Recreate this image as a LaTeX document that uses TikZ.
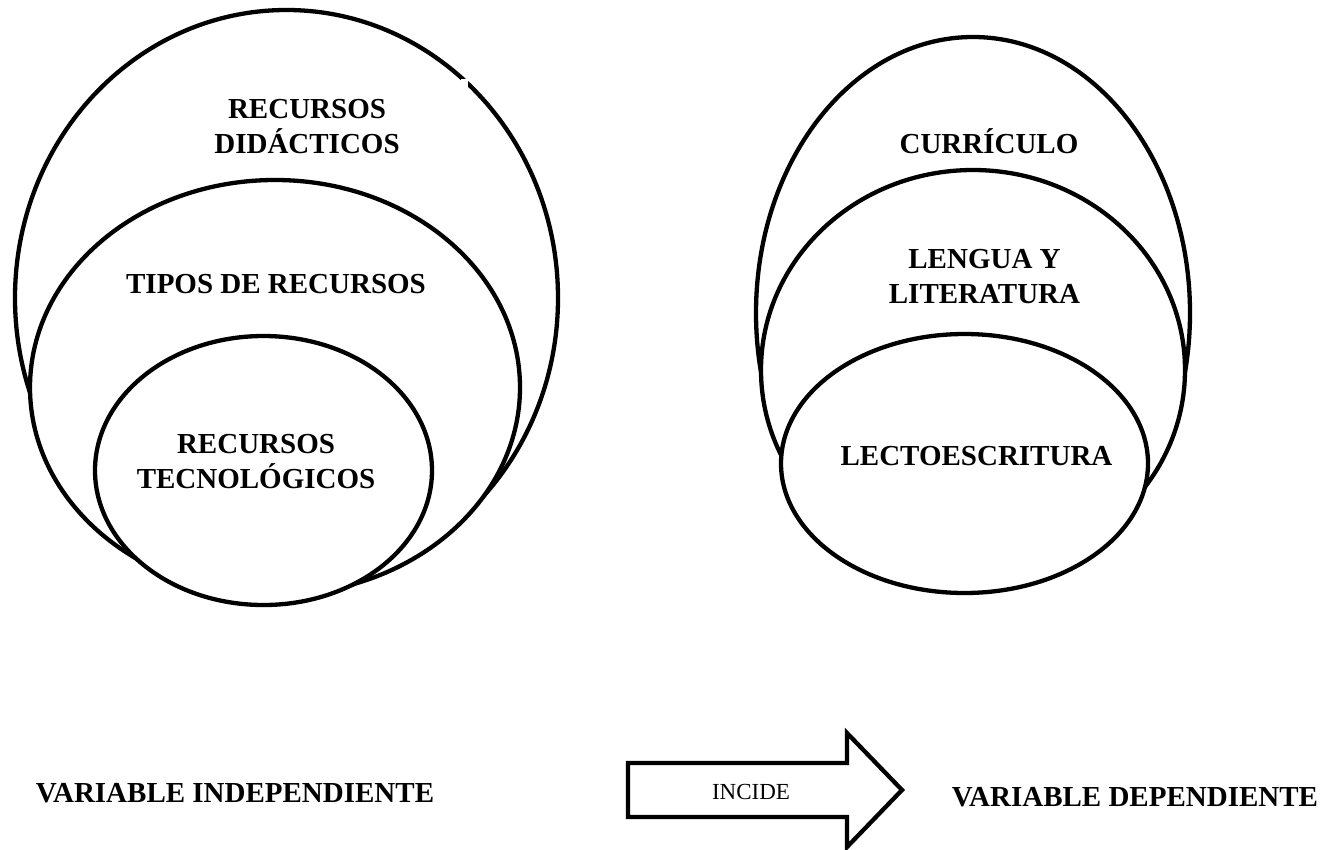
\documentclass[tikz,border=0pt]{standalone}
\usepackage{fontspec}
\setmainfont{Liberation Serif}
\usetikzlibrary{shapes.geometric}
\begin{document}
\begin{tikzpicture}[x=1pt,y=-1pt,
  ring/.style={draw=black, fill=white, line width=4.3pt, ellipse, inner sep=0pt},
  lbl/.style={font=\fontsize{29}{35}\selectfont\bfseries, align=center, inner sep=0pt},
  small/.style={font=\fontsize{23}{26}\selectfont, inner sep=0pt}]
\useasboundingbox (0,0) rectangle (1328,849);
% left group
\node[ring, minimum width=543pt, minimum height=576pt] (rd) at (286.5,298) {};
\node[ring, minimum width=490pt, minimum height=415pt] (tr) at (275,387.5) {};
\node[ring, minimum width=337pt, minimum height=269pt] (rt) at (263.5,470.5) {};
\fill[white] (461,79) rectangle (468,90);
\node[lbl] (trd) at (307,126.5) {RECURSOS\\DIDÁCTICOS};
\node[lbl] (ttr) at (276,284) {TIPOS DE RECURSOS};
\node[lbl] (trt) at (256,462) {RECURSOS\\TECNOLÓGICOS};
% right group
\node[ring, minimum width=434pt, minimum height=552pt] (cu) at (973,313) {};
\node[ring, minimum width=424pt, minimum height=400pt] (ll) at (973,370) {};
\node[ring, minimum width=367pt, minimum height=259pt] (le) at (964.5,463.5) {};
\node[lbl] (tcu) at (989,141) {CURRÍCULO};
\node[lbl] (tll) at (984.5,276.5) {LENGUA Y\\LITERATURA};
\node[lbl] (tle) at (976.5,456) {LECTOESCRITURA};
% bottom
\node[lbl] (vi) at (235,793) {VARIABLE INDEPENDIENTE};
\node[lbl] (vd) at (1135,797) {VARIABLE DEPENDIENTE};
\draw[line width=4.3pt, line join=miter] (628,763) -- (847,763) -- (847,733) -- (902,790) -- (847,847) -- (847,817) -- (628,817) -- cycle;
\node[small] (inc) at (751,792) {INCIDE};
\end{tikzpicture}
\end{document}
